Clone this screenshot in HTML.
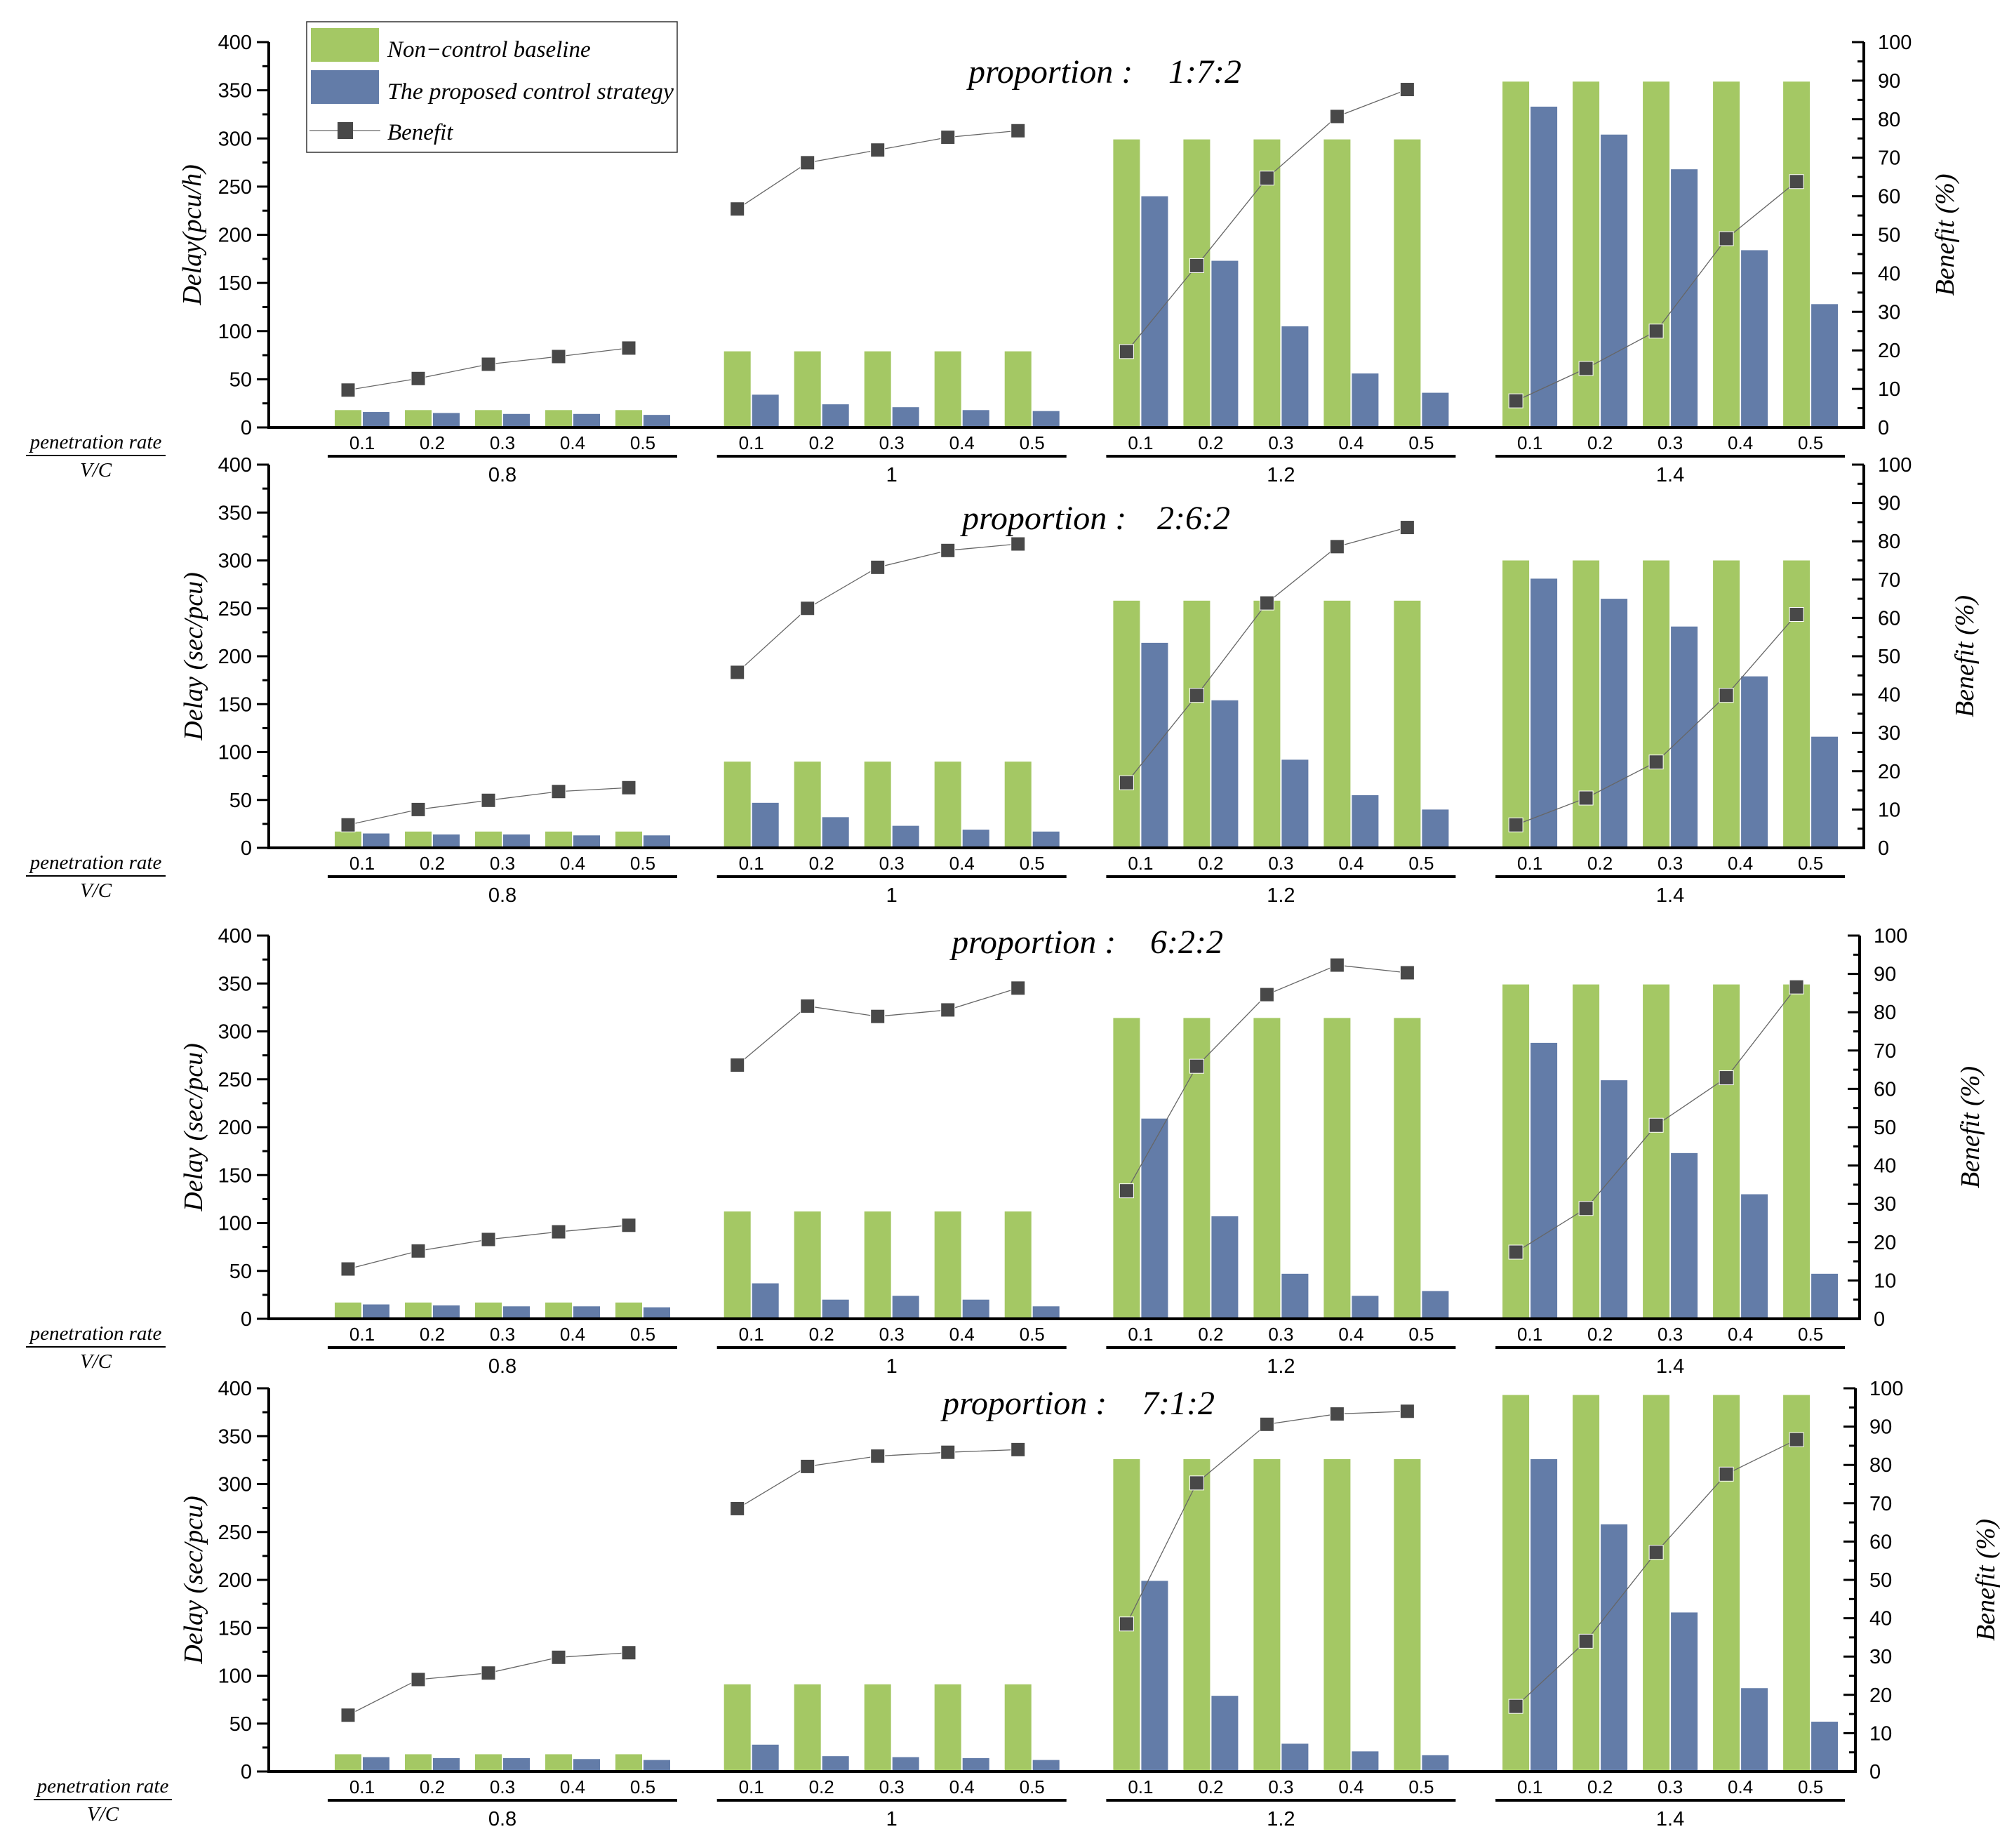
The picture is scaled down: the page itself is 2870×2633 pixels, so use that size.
<!DOCTYPE html>
<html><head><meta charset="utf-8"><style>
html,body{margin:0;padding:0;background:#fff}
svg{display:block}
.tk{font-family:"Liberation Sans",sans-serif;font-size:29px;fill:#000}
.ct{font-family:"Liberation Sans",sans-serif;font-size:26px;fill:#000}
.gl{font-family:"Liberation Sans",sans-serif;font-size:29px;fill:#000}
.it{font-family:"Liberation Serif",serif;font-style:italic;fill:#000}
</style></head><body>
<svg id="chart" width="2870" height="2633" viewBox="0 0 2870 2633" xmlns="http://www.w3.org/2000/svg"></svg>
<script>
const groups = ["0.8","1","1.2","1.4"];
const rates = ["0.1","0.2","0.3","0.4","0.5"];
const titles = ["1:7:2","2:6:2","6:2:2","7:1:2"];
const yTitles = ["Delay(pcu/h)","Delay (sec/pcu)","Delay (sec/pcu)","Delay (sec/pcu)"];
const baseline1 = [[18,18,18,18,18],[79,79,79,79,79],[299,299,299,299,299],[359,359,359,359,359]];
const control1 = [[16,15,14,14,13],[34,24,21,18,17],[240,173,105,56,36],[333,304,268,184,128]];
const benefit1 = [[9.7,12.7,16.4,18.4,20.6],[56.7,68.7,72,75.3,77],[19.7,42,64.7,80.7,87.7],[6.9,15.3,25,49,63.8]];
const baseline2 = [[17,17,17,17,17],[90,90,90,90,90],[258,258,258,258,258],[300,300,300,300,300]];
const control2 = [[15,14,14,13,13],[47,32,23,19,17],[214,154,92,55,40],[281,260,231,179,116]];
const benefit2 = [[6,10,12.4,14.7,15.7],[45.8,62.5,73.2,77.6,79.3],[17,39.8,63.9,78.6,83.6],[6,13,22.4,39.8,60.9]];
const baseline3 = [[17,17,17,17,17],[112,112,112,112,112],[314,314,314,314,314],[349,349,349,349,349]];
const control3 = [[15,14,13,13,12],[37,20,24,20,13],[209,107,47,24,29],[288,249,173,130,47]];
const benefit3 = [[13,17.7,20.7,22.7,24.4],[66.2,81.6,78.9,80.6,86.3],[33.4,65.9,84.6,92.3,90.3],[17.4,28.8,50.5,62.9,86.6]];
const baseline4 = [[18,18,18,18,18],[91,91,91,91,91],[326,326,326,326,326],[393,393,393,393,393]];
const control4 = [[15,14,14,13,12],[28,16,15,14,12],[199,79,29,21,17],[326,258,166,87,52]];
const benefit4 = [[14.7,24,25.7,29.8,31],[68.6,79.6,82.3,83.3,84],[38.5,75.3,90.6,93.3,94],[17,34,57.2,77.6,86.6]];
const leftTicks = [0,50,100,150,200,250,300,350,400];
const rightTicks = [0,10,20,30,40,50,60,70,80,90,100];

const baselines=[baseline1,baseline2,baseline3,baseline4];
const controls=[control1,control2,control3,control4];
const benefits=[benefit1,benefit2,benefit3,benefit4];
const layout=[
 {top:60,bot:609,right:2656,titleX:1380,ratioX:1665,titleY:118,ylx:274,rlx:2772,pr:[37,236]},
 {top:662,bot:1208,right:2656,titleX:1371,ratioX:1649,titleY:754,ylx:276,rlx:2800,pr:[37,236]},
 {top:1333,bot:1879,right:2650,titleX:1356,ratioX:1639,titleY:1358,ylx:276,rlx:2808,pr:[37,236]},
 {top:1978,bot:2524,right:2644,titleX:1343,ratioX:1627,titleY:2015,ylx:276,rlx:2830,pr:[48,245]}
];
const svg=document.getElementById('chart');
const NS="http://www.w3.org/2000/svg";
function mk(tag,attrs,parent,text){const e=document.createElementNS(NS,tag);for(const k in attrs)e.setAttribute(k,attrs[k]);if(text!==undefined)e.textContent=text;(parent||svg).appendChild(e);return e;}
const LEFT=383;
function xPos(g,i){return 516+554.7*g+100*i;}

layout.forEach((L,p)=>{
  const grp=mk('g',{});
  
  
  const yL=v=>L.bot-(L.bot-L.top)*v/400;
  const yR=v=>L.bot-(L.bot-L.top)*v/100;
  for(let g=0;g<4;g++)for(let i=0;i<5;i++){
    const cx=xPos(g,i);
    const b=mk('rect',{x:cx-39,y:yL(baselines[p][g][i]),width:38,height:L.bot-yL(baselines[p][g][i]),fill:'#a4c864'},grp);
    
    
    const c=mk('rect',{x:cx+1,y:yL(controls[p][g][i]),width:38,height:L.bot-yL(controls[p][g][i]),fill:'#637ca8'},grp);
    
    
    const t=mk('text',{x:cx,y:L.bot+31,'text-anchor':'middle',class:'ct'},grp,rates[i]);
    
    
  }
  for(let g=0;g<4;g++){
    const x0=xPos(g,0)-49,x1=xPos(g,4)+49;
    const ln=mk('line',{x1:x0,x2:x1,y1:L.bot+41,y2:L.bot+41,stroke:'#000','stroke-width':4},grp);
    
    
    const t=mk('text',{x:(x0+x1)/2,y:L.bot+77,'text-anchor':'middle',class:'gl'},grp,groups[g]);
    
    
  }
  for(let g=0;g<4;g++){
    const pts=benefits[p][g].map((v,i)=>(xPos(g,i)-20)+','+yR(v)).join(' ');
    const pl=mk('polyline',{points:pts,fill:'none',stroke:'#666','stroke-width':1.3},grp);
    
    
    benefits[p][g].forEach((v,i)=>{
      const m=mk('rect',{x:xPos(g,i)-20-10,y:yR(v)-10,width:20,height:20,fill:'#484848',stroke:'#fff','stroke-width':1},grp);
      
      
    });
  }
  const ax=mk('path',{d:`M${LEFT},${L.top} V${L.bot} H${L.right} V${L.top}`,fill:'none',stroke:'#000','stroke-width':4},grp);
  
  
  leftTicks.forEach(v=>{
    mk('line',{x1:LEFT-17,x2:LEFT,y1:yL(v),y2:yL(v),stroke:'#000','stroke-width':3},grp);
    if(v<400) mk('line',{x1:LEFT-9,x2:LEFT,y1:yL(v+25),y2:yL(v+25),stroke:'#000','stroke-width':3},grp);
    const t=mk('text',{x:LEFT-24,y:yL(v)+10,'text-anchor':'end',class:'tk'},grp,String(v));
    
    
  });
  rightTicks.forEach(v=>{
    mk('line',{x1:L.right,x2:L.right-17,y1:yR(v),y2:yR(v),stroke:'#000','stroke-width':3},grp);
    if(v<100) mk('line',{x1:L.right,x2:L.right-9,y1:yR(v+5),y2:yR(v+5),stroke:'#000','stroke-width':3},grp);
    const t=mk('text',{x:L.right+20,y:yR(v)+10,'text-anchor':'start',class:'tk'},grp,String(v));
    
    
  });
  const mid=(L.top+L.bot)/2;
  const yl=mk('text',{x:0,y:0,transform:`translate(${L.ylx+12},${mid}) rotate(-90)`,'text-anchor':'middle',class:'it','font-size':38},grp,yTitles[p]);
  
  
  const rl=mk('text',{x:0,y:0,transform:`translate(${L.rlx+12},${mid}) rotate(-90)`,'text-anchor':'middle',class:'it','font-size':38},grp,'Benefit (%)');
  
  
  const tt=mk('text',{x:L.titleX,y:L.titleY,class:'it','font-size':48},grp,'proportion :');
  
  
  const tr=mk('text',{x:L.ratioX,y:L.titleY,class:'it','font-size':48},grp,titles[p]);
  
  
  const pr=mk('text',{x:(L.pr[0]+L.pr[1])/2,y:L.bot+30,'text-anchor':'middle',class:'it','font-size':29},grp,'penetration rate');
  
  
  mk('line',{x1:L.pr[0],x2:L.pr[1],y1:L.bot+40,y2:L.bot+40,stroke:'#000','stroke-width':2},grp);
  const vc=mk('text',{x:(L.pr[0]+L.pr[1])/2,y:L.bot+70,'text-anchor':'middle',class:'it','font-size':29},grp,'V/C');
  
  
});
const lg=mk('g',{});


mk('rect',{x:437,y:31,width:528,height:186,fill:'#fff',stroke:'#333','stroke-width':1.5},lg);
mk('rect',{x:443,y:40,width:97,height:48,fill:'#a4c864'},lg);
mk('rect',{x:443,y:100,width:97,height:48,fill:'#637ca8'},lg);
mk('line',{x1:441,x2:542,y1:186,y2:186,stroke:'#666','stroke-width':1.3},lg);
mk('rect',{x:481,y:174,width:22,height:24,fill:'#484848'},lg);
const l1=mk('text',{x:552,y:81,class:'it','font-size':33},lg,'Non\u2212control baseline');


const l2=mk('text',{x:552,y:141,class:'it','font-size':33,textLength:408,lengthAdjust:'spacingAndGlyphs'},lg,'The proposed control strategy');


const l3=mk('text',{x:552,y:199,class:'it','font-size':33},lg,'Benefit');


</script>
</body></html>
